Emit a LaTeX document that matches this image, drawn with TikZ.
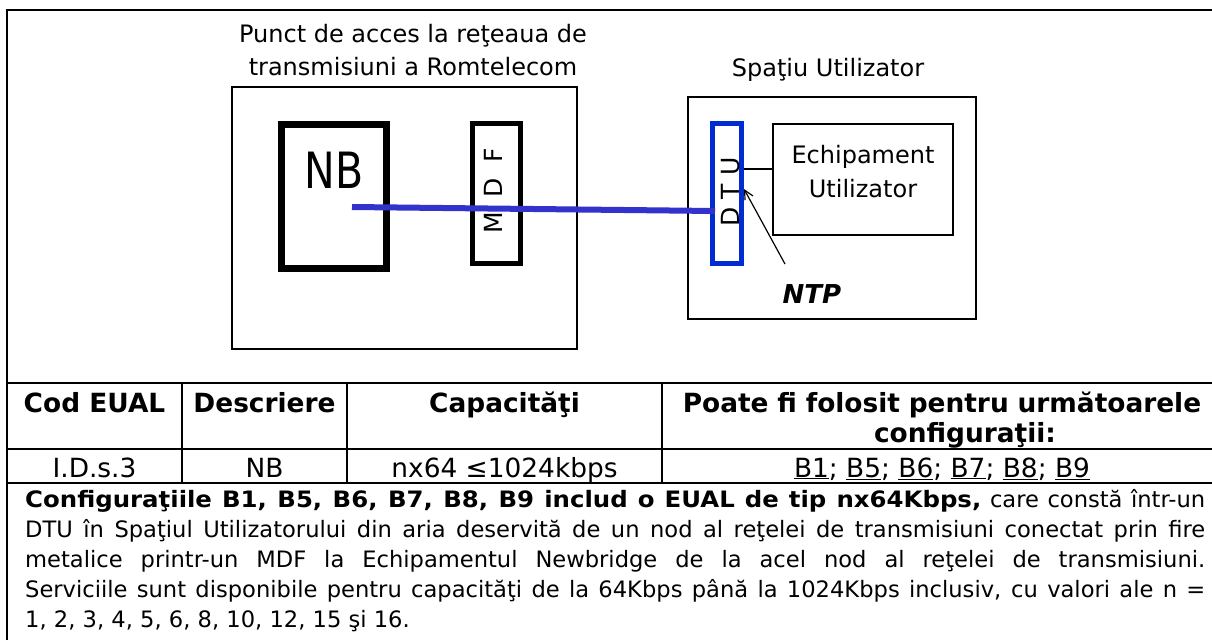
\documentclass[tikz,border=0pt]{standalone}
\usepackage{fontspec}
\setmainfont{DejaVu Sans}
\newfontfamily\parawide[FakeStretch=1.08]{DejaVu Sans}
\usetikzlibrary{arrows.meta}
\definecolor{wireblue}{RGB}{51,51,204}
\definecolor{dtublue}{RGB}{0,45,210}
\newcommand\jline[1]{\makebox[1180pt][s]{#1}}

\begin{document}
\begin{tikzpicture}[x=1pt,y=-1pt,
        rule/.style={line width=2.5pt},
        thinbox/.style={draw,line width=1.5pt,inner sep=0pt},
        difont/.style={font=\fontsize{24}{33}\selectfont},
        cellfont/.style={font=\fontsize{26.4}{30}\selectfont,anchor=base}]
            \useasboundingbox (0,0) rectangle (1212,640);
            \draw[rule] (7,640) -- (7,10) -- (1212,10);
            \foreach \y in {383,449,483}
            {
                \draw[rule] (7,\y) -- (1212,\y);
            }
            \foreach \x in {182,347,662}
            {
                \draw[rule] (\x,383) -- (\x,483);
            }
            \node[thinbox,minimum width=345pt,minimum height=262pt] (retea) at (404.5,218) {};
            \node[difont,align=center] (reteatitlu) at (413,50) {Punct de acces la reţeaua de\\transmisiuni a Romtelecom};
            \node[draw,line width=7pt,minimum width=105pt,minimum height=144pt] (nb) at (334,196) {};
            \node[font=\fontsize{50}{50}\selectfont,xscale=.82] (nbtext) at (334,170) {NB};
            \node[draw,line width=5pt,minimum width=48pt,minimum height=140pt] (mdf) at (496.5,193.5) {};
            \node[rotate=90,font=\fontsize{25}{25}\selectfont] (mdftext) at (493,191) {M\hspace{7pt} D\hspace{7pt} F};
            \node[thinbox,minimum width=288pt,minimum height=222pt] (utilizator) at (832,208) {};
            \node[difont] (utilizatortitlu) at (828,70) {Spaţiu Utilizator};
            \node[thinbox,minimum width=180pt,minimum height=111pt] (echipament) at (863,179.5) {};
            \node[align=center,font=\fontsize{24}{34}\selectfont] (echipamenttext) at (863,172) {Echipament\\Utilizator};
            \node[draw=dtublue,line width=5pt,minimum width=29pt,minimum height=140pt] (dtu) at (727,193.5) {};
            \node[rotate=90,font=\fontsize{25}{25}\selectfont] (dtutext) at (730.5,192) {D T U};
            \draw[line width=1.2pt] ([yshift=10.5pt]echipament.west) -- ([yshift=10.5pt]echipament.west -| dtu.east);
            \draw[line width=6pt,wireblue] ([shift={(18,11)}]nb.center) -- ([shift={(-12,17.5)}]dtu.center);
            \node[font=\fontsize{26}{26}\selectfont\bfseries\itshape] (ntp) at (812,294) {NTP};
            \coordinate (ntptail) at (785,264);
            \draw[-{Straight Barb[length=9pt,width=9pt]},line width=1.2pt] (ntptail) -- ([yshift=4.5pt]dtu.east);
            \foreach \i/\x/\text in {1/94.5/Cod EUAL,2/264.5/Descriere,3/504.5/Capacităţi}
            {
                \node[cellfont,font=\fontsize{26.4}{30}\selectfont\bfseries] (head\i) at (\x,412) {\text};
            }
            \node[cellfont,font=\fontsize{26.4}{30}\selectfont\bfseries,text width=520pt,align=center] (head4) at (942,412) {Poate fi folosit pentru următoarele\\\hspace*{46pt}configuraţii:};
            \foreach \i/\x/\text in {1/94.5/I.D.s.3,2/264.5/NB,3/504.5/nx64 ≤1024kbps,4/942/{\underline{B1}; \underline{B5}; \underline{B6}; \underline{B7}; \underline{B8}; \underline{B9}}}
            {
                \node[cellfont] (cell\i) at (\x,477) {\text};
            }
            \node[anchor=base west,text width=1180pt,align=justify,inner sep=0pt,font=\fontsize{22.6}{30}\selectfont] (descriere) at (25,507) {%
                \jline{{\parawide\bfseries Configuraţiile B1, B5, B6, B7, B8, B9 includ o EUAL de tip nx64Kbps,} care constă într-un}\\
                \jline{DTU în Spaţiul Utilizatorului din aria deservită de un nod al reţelei de transmisiuni conectat prin fire}\\
                \jline{metalice printr-un MDF la Echipamentul Newbridge de la acel nod al reţelei de transmisiuni.}\\
                \jline{Serviciile sunt disponibile pentru capacităţi de la 64Kbps până la 1024Kbps inclusiv, cu valori ale n =}\\
                1, 2, 3, 4, 5, 6, 8, 10, 12, 15 şi 16.};
        \end{tikzpicture}
\end{document}
